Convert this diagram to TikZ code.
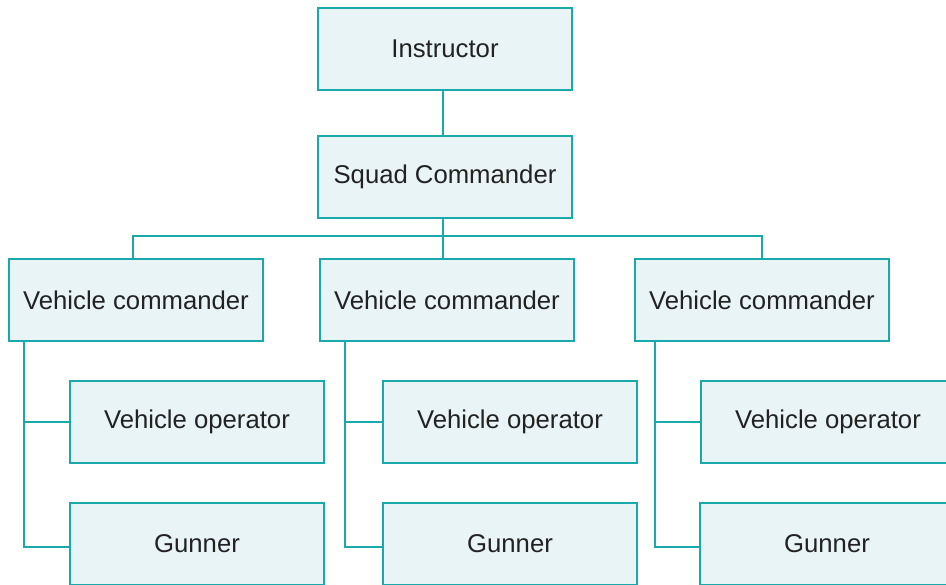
\documentclass[tikz,border=0pt]{standalone}
\usepackage{fontspec}
\setmainfont{Liberation Sans}
\definecolor{teal1}{HTML}{1AA9AA}
\definecolor{boxfill}{HTML}{E8F4F6}
\definecolor{txt}{HTML}{222222}
\begin{document}
\begin{tikzpicture}[x=1pt,y=-1pt,
  box/.style={draw=teal1,line width=1.6pt,fill=boxfill,minimum width=254pt,minimum height=82pt,inner sep=0pt,text=txt,font=\fontsize{25.7}{30}\selectfont},
  link/.style={draw=teal1,line width=1.6pt}]
\useasboundingbox (0,0) rectangle (946,585);
\node[box] (I) at (445,49) {Instructor};
\node[box] (S) at (445,177) {Squad Commander};
\node[box] (VC1) at (136,300) {Vehicle commander};
\node[box] (VC2) at (447,300) {Vehicle commander};
\node[box] (VC3) at (762,300) {Vehicle commander};
\node[box] (VO1) at (197,422) {Vehicle operator};
\node[box] (G1) at (197,544) {Gunner};
\node[box] (VO2) at (510,422) {Vehicle operator};
\node[box] (G2) at (510,544) {Gunner};
\node[box] (VO3) at (828,422) {Vehicle operator};
\node[box] (G3) at (827,544) {Gunner};
\coordinate (bus) at (0,236);
\coordinate (gy) at (0,547);
\coordinate (d1) at (24,341);
\coordinate (d2) at (345,341);
\coordinate (d3) at (655,341);
\draw[link] (I.south -| 443,0) -- (S.north -| 443,0);
\draw[link] (S.south -| 443,0) -- (VC2.north -| 443,0);
\draw[link] (VC1.north -| 133,0) |- (bus -| VC3.north) -- (VC3.north);
\draw[link] (d1) |- (gy -| G1.west);
\draw[link] (d1 |- VO1.west) -- (VO1.west);
\draw[link] (d2) |- (gy -| G2.west);
\draw[link] (d2 |- VO2.west) -- (VO2.west);
\draw[link] (d3) |- (gy -| G3.west);
\draw[link] (d3 |- VO3.west) -- (VO3.west);
\end{tikzpicture}
\end{document}
